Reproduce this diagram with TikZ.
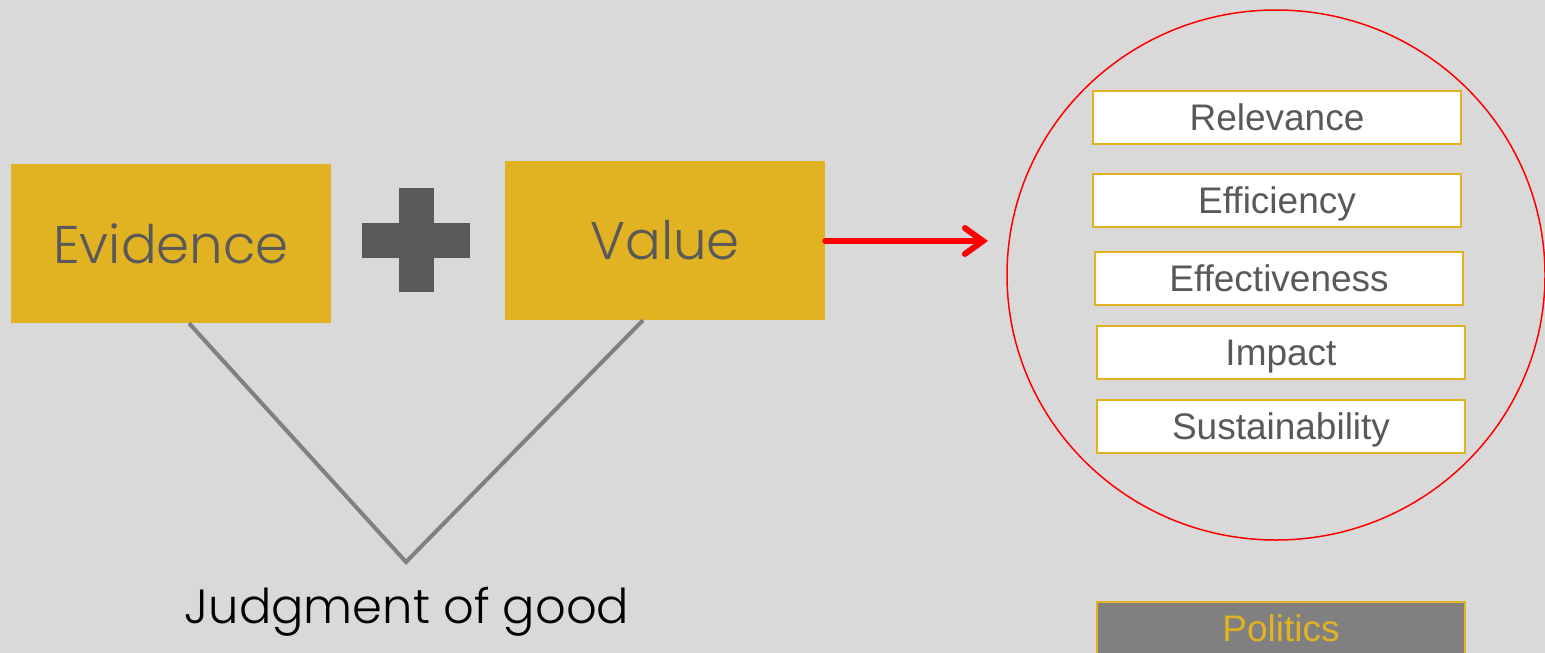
\documentclass[tikz,border=0pt]{standalone}
\usepackage{fontspec}
\usetikzlibrary{arrows.meta}
\setmainfont{Liberation Sans}
\newfontfamily\roundfont{Poppins Light}
\definecolor{bgcol}{HTML}{D9D9D9}
\definecolor{goldcol}{HTML}{E1B222}
\definecolor{inkcol}{HTML}{595959}
\definecolor{linecol}{HTML}{808080}
\tikzset{
    bigbox/.style={fill=goldcol, minimum width=320pt, minimum height=159pt, inner sep=0pt,
        text=inkcol, font=\roundfont\fontsize{53}{53}\selectfont},
    critbox/.style={draw=goldcol, line width=2pt, fill=white, minimum width=368pt, minimum height=53pt,
        inner sep=0pt, text height=26.5pt, text depth=0pt, text=inkcol, font=\fontsize{37}{37}\selectfont},
}
\begin{document}
\begin{tikzpicture}[x=1pt, y=-1pt]
        \fill[bgcol] (0,0) rectangle (1545,653);
        \useasboundingbox (0,0) rectangle (1545,653);
        % left side
        \node[bigbox] (ev) at (171,243.5) {Evidence};
        \node[bigbox] (val) at (665,240.5) {Value};
        \fill[inkcol] (399,188) rectangle (434,292);
        \fill[inkcol] (362,223) rectangle (470,258);
        \coordinate (apex) at (406,562);
        \draw[linecol, line width=4pt] ([xshift=18pt]ev.south) -- (apex) -- ([xshift=-22pt]val.south);
        \node[font=\roundfont\fontsize{48}{48}\selectfont] (judge) at (407,612) {Judgment of good};
        % criteria circle
        \draw[red, line width=1.5pt] (1276,275) ellipse [x radius=269, y radius=265];
        \coordinate (circleft) at (988,241);
        \draw[red, line width=6pt, line cap=round, -{Straight Barb[length=18pt, width=26pt, line cap=round]}] (val.east |- circleft) -- (circleft);
        \node[critbox] (rel) at (1277,117.5) {Relevance};
        \node[critbox] (eff) at (1277,200) {Efficiency};
        \node[critbox] (effect) at (1279,278.5) {Effectiveness};
        \node[critbox] (imp) at (1281,352) {Impact};
        \node[critbox] (sus) at (1281,426) {Sustainability};
        \node[critbox, fill=linecol, text=goldcol] (pol) at (1281,628) {Politics};
    \end{tikzpicture}
\end{document}
